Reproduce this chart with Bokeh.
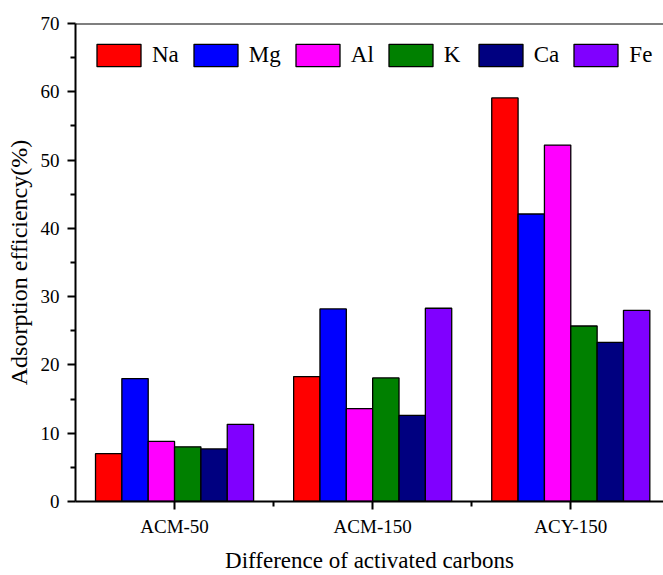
from bokeh.plotting import figure
from bokeh.models import FixedTicker, Legend, LegendItem, Span, ColumnDataSource
from bokeh.embed import file_html
from bokeh.resources import INLINE

carbons = ["ACM-50", "ACM-150", "ACY-150"]
elements = ["Na", "Mg", "Al", "K", "Ca", "Fe"]
colors = ["#FF0000", "#0000FF", "#FF00FF", "#008000", "#000080", "#8000FF"]
Na = [7.0, 18.3, 59.1]
Mg = [18.0, 28.2, 42.1]
Al = [8.8, 13.6, 52.2]
K = [8.0, 18.1, 25.7]
Ca = [7.7, 12.6, 23.3]
Fe = [11.3, 28.3, 28.0]
series = [Na, Mg, Al, K, Ca, Fe]

FONT = "Times New Roman"
bw = 0.133

p = figure(width=663, height=575, output_backend="svg", toolbar_location=None,
           x_range=(-0.5, 2.468), y_range=(0, 70),
           min_border_left=75, min_border_right=0, min_border_top=23, min_border_bottom=73)
p.outline_line_color = None
p.grid.grid_line_color = None
p.background_fill_color = "white"

items = []
for i, (name, vals, c) in enumerate(zip(elements, series, colors)):
    xs = [g + (i - 2.5) * bw for g in range(len(carbons))]
    src = ColumnDataSource(dict(x=xs, top=vals))
    r = p.vbar(x="x", top="top", width=bw, bottom=0, source=src,
               fill_color=c, line_color="black", line_width=1.3)
    items.append(LegendItem(label=name, renderers=[r]))

legend = Legend(items=items, orientation="horizontal", location=(16, 432),
                glyph_width=55, glyph_height=28, label_standoff=6, spacing=9,
                padding=0, margin=0, border_line_color=None, background_fill_alpha=0,
                label_text_font=FONT, label_text_font_size="23px",
                label_text_color="black", label_height=28)
p.add_layout(legend, "center")

p.add_layout(Span(location=70, dimension="width", line_color="black", line_width=2))

p.xaxis.ticker = FixedTicker(ticks=[0, 1, 2], minor_ticks=[0.5, 1.5])
p.xaxis.major_label_overrides = {0: "ACM-50", 1: "ACM-150", 2: "ACY-150"}
p.yaxis.ticker = FixedTicker(ticks=list(range(0, 71, 10)), minor_ticks=list(range(5, 70, 10)))

for ax in (p.xaxis[0], p.yaxis[0]):
    ax.axis_line_width = 2
    ax.axis_line_color = "black"
    ax.major_tick_line_width = 2
    ax.minor_tick_line_width = 2
    ax.major_tick_in = 0
    ax.major_tick_out = 8
    ax.minor_tick_in = 0
    ax.minor_tick_out = 5
    ax.major_label_text_font = FONT
    ax.major_label_text_font_size = "19px"
    ax.major_label_text_color = "black"
    ax.axis_label_text_font = FONT
    ax.axis_label_text_font_size = "23px"
    ax.axis_label_text_font_style = "normal"
    ax.axis_label_text_color = "black"

p.yaxis.axis_label_text_font_size = "24px"
p.xaxis.major_label_standoff = 6
p.yaxis.major_label_standoff = 8
p.xaxis.axis_label = "Difference of activated carbons"
p.yaxis.axis_label = "Adsorption efficiency(%)"
p.xaxis.axis_label_standoff = 8
p.yaxis.axis_label_standoff = 6

open("out.html", "w").write(file_html(p, INLINE))
